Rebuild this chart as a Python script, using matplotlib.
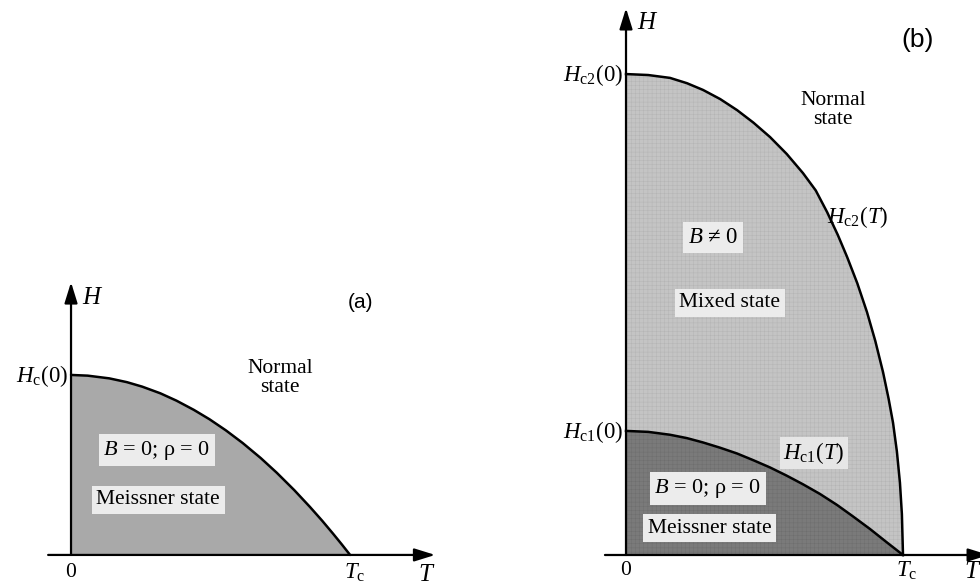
import matplotlib
matplotlib.use("Agg")
import matplotlib.pyplot as plt

plt.rcParams["font.family"] = ["Liberation Serif", "DejaVu Serif"]
plt.rcParams["mathtext.fontset"] = "custom"
plt.rcParams["mathtext.rm"] = "Liberation Serif"
plt.rcParams["mathtext.it"] = "Liberation Serif:italic"
plt.rcParams["mathtext.bf"] = "Liberation Serif:bold"
plt.rcParams["hatch.linewidth"] = 0.3

# ---- Type I superconductor: critical field H_c(T), in units of T_c and H_c(0)
t_hc = [0.0, 0.06, 0.137, 0.2, 0.255, 0.32, 0.378, 0.44, 0.496, 0.555,
        0.615, 0.68, 0.737, 0.8, 0.856, 0.9, 0.939, 0.97, 1.0]
h_hc = [1.0, 0.996, 0.981, 0.96, 0.935, 0.898, 0.857, 0.806, 0.754, 0.692,
        0.622, 0.538, 0.457, 0.36, 0.267, 0.19, 0.118, 0.059, 0.0]

# ---- Type II superconductor: upper and lower critical fields, units of T_c and H_c2(0)
t_hc2 = [0.0, 0.08, 0.159, 0.22, 0.278, 0.34, 0.401, 0.46, 0.520, 0.58, 0.639,
         0.685, 0.726, 0.765, 0.798, 0.835, 0.870, 0.90, 0.928, 0.948, 0.964,
         0.978, 0.989, 0.996, 1.0]
h_hc2 = [1.0, 0.998, 0.992, 0.981, 0.967, 0.948, 0.925, 0.899, 0.869, 0.834, 0.794,
         0.758, 0.713, 0.665, 0.620, 0.565, 0.505, 0.445, 0.380, 0.325, 0.275,
         0.215, 0.150, 0.085, 0.0]
t_hc1 = [0.0, 0.08, 0.159, 0.22, 0.278, 0.34, 0.401, 0.46, 0.520, 0.58, 0.639,
         0.70, 0.762, 0.82, 0.881, 0.94, 1.0]
h_hc1 = [0.258, 0.256, 0.250, 0.243, 0.234, 0.223, 0.211, 0.197, 0.182, 0.165, 0.147,
         0.127, 0.104, 0.080, 0.054, 0.027, 0.0]

W, H = 980, 585
fig = plt.figure(figsize=(W / 100, H / 100), dpi=100)
fig.patch.set_facecolor("white")

LABEL = 15.5
BOX = dict(boxstyle="square,pad=0.22", fc="#ececec", ec="none")


def axis_arrows(ax, x0, x1, y1):
    kw = dict(arrowstyle="-|>,head_length=0.9,head_width=0.28", lw=1.6,
              color="black", mutation_scale=14, shrinkA=0, shrinkB=0)
    ax.annotate("", xy=(x1, 0), xytext=(x0, 0), arrowprops=kw,
                annotation_clip=False, zorder=5)
    ax.annotate("", xy=(0, y1), xytext=(0, 0), arrowprops=kw,
                annotation_clip=False, zorder=5)


# ---------------- (a) ----------------
axa = fig.add_axes([30 / W, 0, 420 / W, 315 / H])
axa.set_xlim(-0.147, 1.358)
axa.set_ylim(-0.167, 1.583)
axa.axis("off")
axa.fill_between(t_hc, h_hc, 0, color="#a9a9a9", lw=0, zorder=1)
axa.plot(t_hc, h_hc, color="black", lw=1.8, zorder=3, solid_capstyle="round")
axis_arrows(axa, -0.082, 1.305, 1.515)

axa.text(0.04, 1.43, "$H$", fontsize=18, ha="left", va="center")
axa.text(1.036, 1.40, "(a)", fontsize=15, family="Liberation Sans",
         ha="center", va="center")
axa.text(-0.012, 0.994, r"$H_{\mathrm{c}}(0)$", fontsize=16.5, ha="right", va="center")
axa.text(0.0, -0.10, "0", fontsize=LABEL, ha="center", va="center")
axa.text(1.018, -0.10, r"$T_{\mathrm{c}}$", fontsize=16.5, ha="center", va="center")
axa.text(1.276, -0.11, "$T$", fontsize=18, ha="center", va="center")
axa.text(0.749, 0.983, "Normal\nstate", fontsize=LABEL, ha="center", va="center",
         linespacing=0.95)
axa.text(0.308, 0.583, "$B$ = 0; ρ = 0", fontsize=16, ha="center", va="center",
         bbox=BOX, zorder=4)
axa.text(0.312, 0.306, "Meissner state", fontsize=LABEL, ha="center", va="center",
         bbox=BOX, zorder=4)

# ---------------- (b) ----------------
axb = fig.add_axes([590 / W, 0, 390 / W, 1.0])
axb.set_xlim(-0.130, 1.278)
axb.set_ylim(-0.0624, 1.154)
axb.axis("off")
axb.fill_between(t_hc2, h_hc2, 0, facecolor="#c4c4c4", edgecolor="#b2b2b2",
                 hatch="++++", lw=0, zorder=1)
axb.fill_between(t_hc1, h_hc1, 0, facecolor="#7a7a7a", edgecolor="#6c6c6c",
                 hatch="++++", lw=0, zorder=2)
axb.plot(t_hc2, h_hc2, color="black", lw=1.8, zorder=3)
axb.plot(t_hc1, h_hc1, color="black", lw=1.8, zorder=3)
axis_arrows(axb, -0.076, 1.31, 1.137)

axb.text(0.04, 1.106, "$H$", fontsize=18, ha="left", va="center")
axb.text(1.051, 1.071, "(b)", fontsize=19, family="Liberation Sans",
         ha="center", va="center")
axb.text(-0.012, 0.998, r"$H_{\mathrm{c2}}(0)$", fontsize=16.5, ha="right", va="center")
axb.text(-0.012, 0.256, r"$H_{\mathrm{c1}}(0)$", fontsize=16.5, ha="right", va="center")
axb.text(0.0, -0.033, "0", fontsize=LABEL, ha="center", va="center")
axb.text(1.014, -0.033, r"$T_{\mathrm{c}}$", fontsize=16.5, ha="center", va="center")
axb.text(1.253, -0.035, "$T$", fontsize=18, ha="center", va="center")
axb.text(0.747, 0.925, "Normal\nstate", fontsize=LABEL, ha="center", va="center",
         linespacing=0.95)
axb.text(0.726, 0.703, r"$H_{\mathrm{c2}}(T)$", fontsize=16.5, ha="left", va="center")
axb.text(0.567, 0.212, r"$H_{\mathrm{c1}}(T)$", fontsize=16.5, ha="left", va="center",
         bbox=dict(boxstyle="square,pad=0.15", fc="#e6e6e6", ec="none"), zorder=4)
axb.text(0.314, 0.661, "$B$ ≠ 0", fontsize=16.5, ha="center", va="center",
         bbox=BOX, zorder=4)
axb.text(0.375, 0.524, "Mixed state", fontsize=LABEL, ha="center", va="center",
         bbox=BOX, zorder=4)
axb.text(0.296, 0.139, "$B$ = 0; ρ = 0", fontsize=16, ha="center", va="center",
         bbox=BOX, zorder=4)
axb.text(0.303, 0.056, "Meissner state", fontsize=LABEL, ha="center", va="center",
         bbox=BOX, zorder=4)

fig.savefig("out.png", dpi=100, facecolor="white")
